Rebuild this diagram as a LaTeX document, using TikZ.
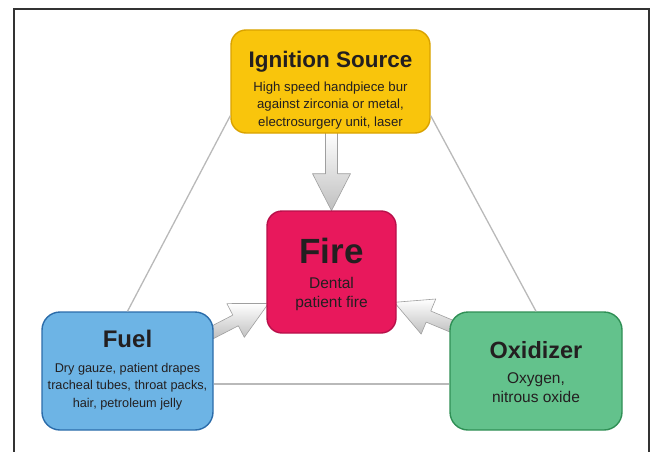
\documentclass[tikz,border=0pt]{standalone}
\usepackage{fontspec}
\setmainfont{Liberation Sans}
\usetikzlibrary{calc,backgrounds}
\definecolor{ignfill}{HTML}{F9C50C}
\definecolor{igndraw}{HTML}{D9A200}
\definecolor{firefill}{HTML}{E8185C}
\definecolor{firedraw}{HTML}{B8104A}
\definecolor{fuelfill}{HTML}{6DB4E5}
\definecolor{fueldraw}{HTML}{2B6CAA}
\definecolor{oxfill}{HTML}{63C28C}
\definecolor{oxdraw}{HTML}{2F8F55}
\definecolor{txt}{HTML}{231F20}
\begin{document}
\begin{tikzpicture}[x=1pt,y=-1pt,
 box/.style={rounded corners=15pt, line width=1.4pt, inner sep=0pt},
 ttl/.style={anchor=base, text=txt, font=\fontsize{22.5}{26}\selectfont\bfseries},
 bdy/.style={anchor=base, text=txt, font=\fontsize{13.2}{16}\selectfont},
 tri/.style={draw=gray!55, line width=1.3pt},
 arr/.style={draw=gray!75, line width=0.6pt, top color=white, bottom color=gray!50, line join=round},
 pics/barrow/.style={code={\draw[arr] (0,-6) -- ({#1-37},-6) -- ({#1-37},-19) -- (#1,0) -- ({#1-37},19) -- ({#1-37},6) -- (0,6) -- cycle;}}]
\useasboundingbox (0,0) rectangle (653,452);
\draw[line width=1.5pt, draw=black!80] (14,452) -- (14,9) -- (649,9) -- (649,452);

% boxes
\node[box, fill=ignfill, draw=igndraw, minimum width=199pt, minimum height=103pt] (ign) at (330.5,81.5) {};
\node[box, fill=firefill, draw=firedraw, minimum width=129pt, minimum height=122pt] (fire) at (331.5,272) {};
\node[box, fill=fuelfill, draw=fueldraw, minimum width=171pt, minimum height=118pt, rounded corners=18pt] (fuel) at (127.5,371) {};
\node[box, fill=oxfill, draw=oxdraw, minimum width=172pt, minimum height=118pt, rounded corners=18pt] (ox) at (536,371) {};

% texts
\node[ttl] (ignT) at (330.5,67) {Ignition Source};
\node[bdy] (ign1) at (330.5,91) {High speed handpiece bur};
\node[bdy] (ign2) at (330.5,108.5) {against zirconia or metal,};
\node[bdy] (ign3) at (330.5,126) {electrosurgery unit, laser};

\node[ttl, font=\fontsize{35}{40}\selectfont\bfseries] (fireT) at (331.5,263) {Fire};
\node[bdy, font=\fontsize{15.5}{18}\selectfont] (fire1) at (331.5,288) {Dental};
\node[bdy, font=\fontsize{15.5}{18}\selectfont] (fire2) at (331.5,307) {patient fire};

\node[ttl, font=\fontsize{24}{28}\selectfont\bfseries] (fuelT) at (127.5,347) {Fuel};
\node[bdy, font=\fontsize{12.7}{15}\selectfont] (fuel1) at (127.5,372) {Dry gauze, patient drapes};
\node[bdy, font=\fontsize{12.7}{15}\selectfont] (fuel2) at (127.5,389.5) {tracheal tubes, throat packs,};
\node[bdy, font=\fontsize{12.7}{15}\selectfont] (fuel3) at (127.5,407) {hair, petroleum jelly};

\node[ttl, font=\fontsize{23.5}{28}\selectfont\bfseries] (oxT) at (536,358) {Oxidizer};
\node[bdy, font=\fontsize{15.5}{18}\selectfont] (ox1) at (536,383) {Oxygen,};
\node[bdy, font=\fontsize{15.5}{18}\selectfont] (ox2) at (536,402) {nitrous oxide};

% triangle lines
\draw[tri] ($(ign.south west)+(0,-18)$) -- (fuel.north);
\draw[tri] ($(ign.south east)+(0,-18)$) -- (ox.north);
\draw[tri] ($(fuel.east)+(0,13)$) -- ($(ox.west)+(0,13)$);

% block arrows
\begin{pgfonlayer}{background}
\coordinate (a1s) at ($(ign.south)+(1,-2)$);
\coordinate (a2s) at ($(fuel.north east)+(-3,22)$);
\coordinate (a3s) at ($(ox.north west)+(5,16)$);
\pic[rotate=-90] at (a1s) {barrow=79};
\pic[rotate=27.35] at (a2s) {barrow=65};
\pic[rotate=157.4] at (a3s) {barrow=65};
\end{pgfonlayer}
\end{tikzpicture}
\end{document}
